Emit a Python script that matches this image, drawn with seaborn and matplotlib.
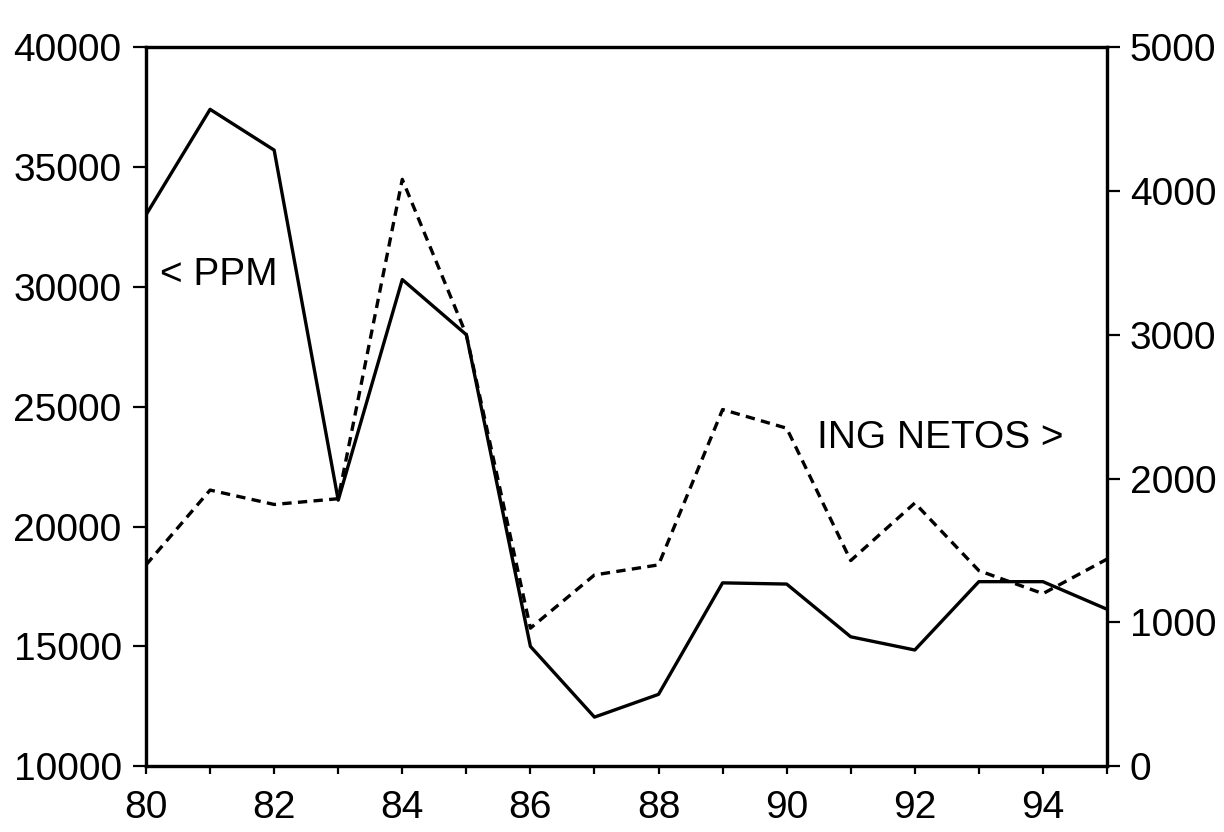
import matplotlib
matplotlib.use("Agg")
import matplotlib.pyplot as plt
import seaborn as sns
import pandas as pd

years = list(range(80, 96))
ppm = [33000, 37400, 35700, 21100, 30300, 28000, 15000, 12050,
       13000, 17650, 17600, 15400, 14850, 17700, 17700, 16550]
ing_netos = [1400, 1920, 1820, 1860, 4080, 3000, 960, 1330,
             1400, 2480, 2350, 1430, 1830, 1360, 1200, 1440]

left_ticks = [10000, 15000, 20000, 25000, 30000, 35000, 40000]
right_ticks = [0, 1000, 2000, 3000, 4000, 5000]
x_labels = [80, 82, 84, 86, 88, 90, 92, 94]

df = pd.DataFrame({"year": years, "PPM": ppm, "ING": ing_netos})

sns.set_theme(style="ticks")
plt.rcParams['font.family'] = ['Liberation Sans', 'DejaVu Sans']
plt.rcParams['text.color'] = 'black'

fig = plt.figure(figsize=(12.24, 8.32), dpi=100)
ax = fig.add_axes([0.1193, 0.079, 0.9044 - 0.1193, 0.9435 - 0.079])
ax2 = ax.twinx()

sns.lineplot(data=df, x="year", y="PPM", ax=ax, color="black", linewidth=2.4)
sns.lineplot(data=df, x="year", y="ING", ax=ax2, color="black", linewidth=2.4)
ax2.lines[0].set_dashes([2.8, 1.9])

ax.set_xlim(80, 95)
ax.set_ylim(10000, 40000)
ax2.set_ylim(0, 5000)
ax.set_xticks(years)
ax.set_xticklabels([str(y) if y in x_labels else "" for y in years])
ax.set_yticks(left_ticks)
ax.set_yticklabels([str(t) for t in left_ticks])
ax2.set_yticks(right_ticks)
ax2.set_yticklabels([str(t) for t in right_ticks])

for a in (ax, ax2):
    a.set_xlabel("")
    a.set_ylabel("")
    for s in a.spines.values():
        s.set_visible(True)
        s.set_linewidth(2.3)
        s.set_color("black")

ax.tick_params(axis="y", direction="out", length=9.5, width=1.6, pad=8,
               labelsize=28, colors="black")
ax.tick_params(axis="x", direction="out", length=6, width=1.6, pad=11,
               labelsize=28, colors="black")
ax2.tick_params(axis="y", direction="out", length=9.5, width=1.6, pad=7,
                labelsize=28, colors="black")

ax.text(80.22, 30500, "< PPM", fontsize=28, color="black",
        ha="left", va="center")
ax.text(90.47, 23700, "ING NETOS >", fontsize=28, color="black",
        ha="left", va="center")

fig.savefig("out.png", dpi=100, facecolor="white")
